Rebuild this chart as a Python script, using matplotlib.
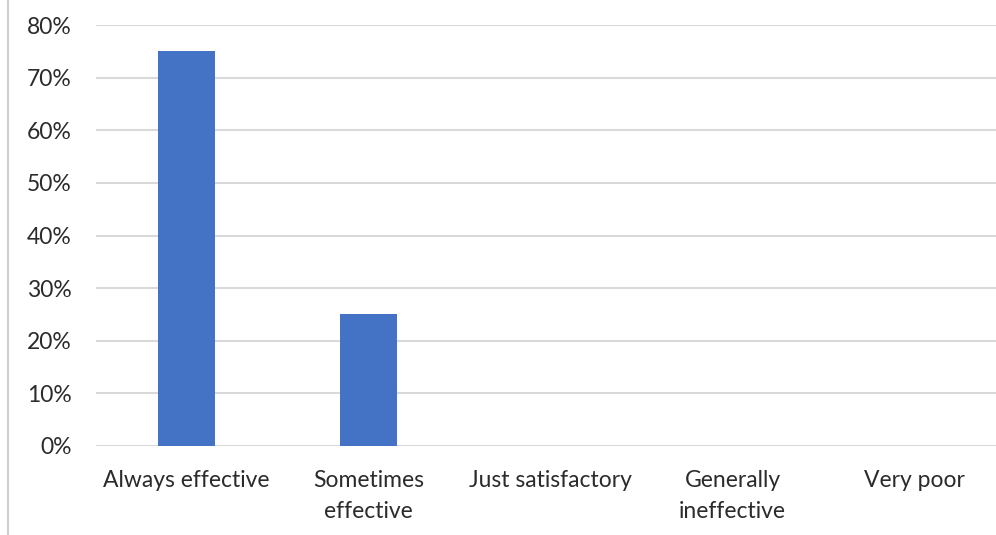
import matplotlib.pyplot as plt
from matplotlib.ticker import PercentFormatter

categories = ["Always effective", "Sometimes\neffective", "Just satisfactory",
              "Generally\nineffective", "Very poor"]
values = [75, 25, 0, 0, 0]
y_ticks = [0, 10, 20, 30, 40, 50, 60, 70, 80]

plt.rcParams['font.family'] = ['Lato', 'DejaVu Sans']

fig = plt.figure(figsize=(9.96, 5.35), dpi=100)
ax = fig.add_axes([95.5 / 996, 89 / 535, 910 / 996, 421 / 535])

x = range(len(categories))
ax.bar(x, values, width=0.313, color='#4472C4', zorder=3)

ax.set_xlim(-0.5, len(categories) - 0.5)
ax.set_ylim(0, 80)
ax.set_yticks(y_ticks)
ax.yaxis.set_major_formatter(PercentFormatter(decimals=0))
ax.set_xticks(list(x))
ax.set_xticklabels(categories, linespacing=1.6)

ax.grid(axis='y', color='#d9d9d9', linewidth=1.5, zorder=0)
for s in ax.spines.values():
    s.set_visible(False)
ax.tick_params(axis='both', length=0, labelsize=16.5, colors='#2b2b2b')
ax.tick_params(axis='y', pad=17)
ax.tick_params(axis='x', pad=17)

# left border line of the chart frame
fig.add_artist(plt.Line2D([8 / 996, 8 / 996], [0, 1], color='#d0d0d0', linewidth=1.5))

fig.savefig('out.png', dpi=100)
